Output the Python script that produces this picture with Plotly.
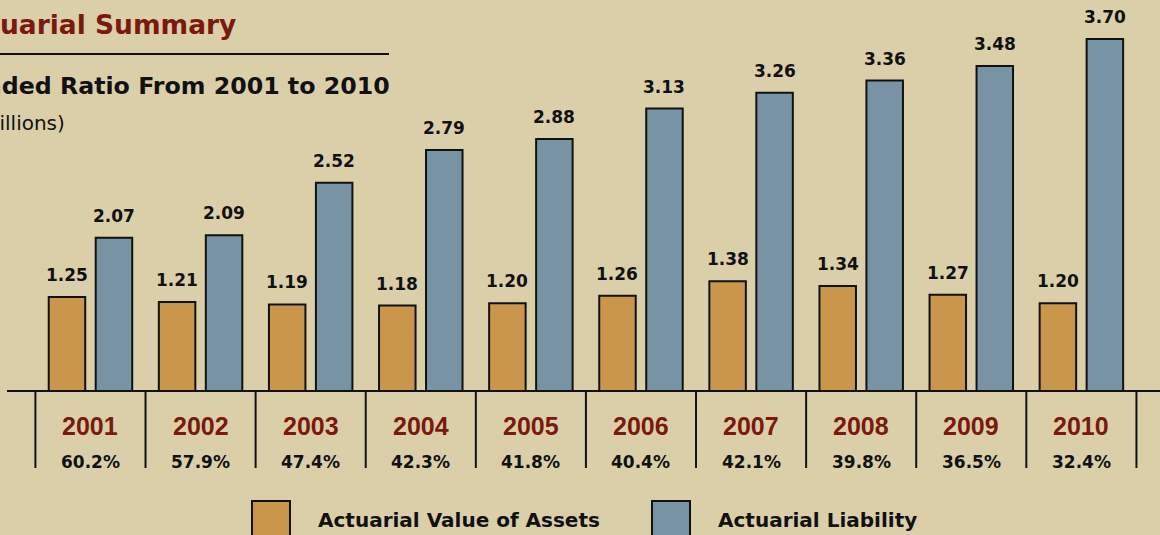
import plotly.graph_objects as go

years = ["2001", "2002", "2003", "2004", "2005", "2006", "2007", "2008", "2009", "2010"]
assets = [1.25, 1.21, 1.19, 1.18, 1.20, 1.26, 1.38, 1.34, 1.27, 1.20]
liability = [2.07, 2.09, 2.52, 2.79, 2.88, 3.13, 3.26, 3.36, 3.48, 3.70]
funded_ratio = ["60.2%", "57.9%", "47.4%", "42.3%", "41.8%", "40.4%", "42.1%", "39.8%", "36.5%", "32.4%"]

BG = "#dbcfaa"
ORANGE = "#c9964c"
BLUE = "#7894a4"
DARKRED = "#7a1a0e"
INK = "#111111"
BOLD = "DejaVu Sans"

W, H = 1160, 535
L, B = 7, 145
PW, PH = W - L, H - B


def px(x):
    return (x - L) / PW


def py(y):
    return (PH - y) / PH


fig = go.Figure()
fig.add_trace(go.Bar(
    x=years, y=assets, name="Actuarial Value of Assets", yaxis="y",
    width=0.3315, offset=-0.379,
    marker=dict(color=ORANGE, line=dict(color=INK, width=2)),
    hoverinfo="x+y",
))
fig.add_trace(go.Bar(
    x=years, y=liability, name="Actuarial Liability", yaxis="y2",
    width=0.3315, offset=0.0477,
    marker=dict(color=BLUE, line=dict(color=INK, width=2)),
    hoverinfo="x+y",
))

ann = []
# category axis: annotations take the category index
for i, (yr, a, l, fr) in enumerate(zip(years, assets, liability, funded_ratio)):
    ann.append(dict(xref="x", x=i, y=a, yref="y", text=f"{a:.2f}", xshift=-23.5, yshift=10,
                    yanchor="bottom", showarrow=False,
                    font=dict(family=BOLD, size=17, color=INK, weight="bold")))
    ann.append(dict(xref="x", x=i, y=l, yref="y2", text=f"{l:.2f}", xshift=23.5, yshift=10,
                    yanchor="bottom", showarrow=False,
                    font=dict(family=BOLD, size=17, color=INK, weight="bold")))
    ann.append(dict(xref="x", x=i, y=py(426), yref="paper", yanchor="middle", text=yr,
                    showarrow=False,
                    font=dict(family="Liberation Sans", size=25, color=DARKRED, weight="bold")))
    ann.append(dict(xref="x", x=i, y=py(462), yref="paper", yanchor="middle", text=fr,
                    showarrow=False,
                    font=dict(family=BOLD, size=17, color=INK, weight="bold")))

# header, cropped on the left like the source page
ann += [
    dict(xref="paper", yref="paper", x=px(238), y=py(25), xanchor="right", yanchor="middle",
         showarrow=False, text="Actuarial Summary",
         font=dict(family=BOLD, size=26.5, color=DARKRED, weight="bold")),
    dict(xref="paper", yref="paper", x=px(392), y=py(86), xanchor="right", yanchor="middle",
         showarrow=False, text="Funded Ratio From 2001 to 2010",
         font=dict(family=BOLD, size=23.7, color=INK, weight="bold")),
    dict(xref="paper", yref="paper", x=px(67), y=py(123), xanchor="right", yanchor="middle",
         showarrow=False, text="(In Billions)", font=dict(family=BOLD, size=20, color=INK)),
    dict(xref="paper", yref="paper", x=px(316), y=py(520), xanchor="left", yanchor="middle",
         showarrow=False, text="Actuarial Value of Assets",
         font=dict(family=BOLD, size=20, color=INK, weight="bold")),
    dict(xref="paper", yref="paper", x=px(716), y=py(520), xanchor="left", yanchor="middle",
         showarrow=False, text="Actuarial Liability",
         font=dict(family=BOLD, size=20, color=INK, weight="bold")),
]

shapes = [dict(type="line", xref="x", yref="paper", x0=i - 0.5, x1=i - 0.5, y0=0, y1=py(468),
               line=dict(color=INK, width=2)) for i in range(len(years) + 1)]
shapes += [
    dict(type="line", xref="paper", yref="paper", x0=px(-5), x1=px(389), y0=py(54), y1=py(54),
         line=dict(color=INK, width=2)),
    dict(type="rect", xref="paper", yref="paper", x0=px(252), x1=px(290), y0=py(501), y1=py(545),
         fillcolor=ORANGE, line=dict(color=INK, width=2)),
    dict(type="rect", xref="paper", yref="paper", x0=px(652), x1=px(690), y0=py(501), y1=py(545),
         fillcolor=BLUE, line=dict(color=INK, width=2)),
]

fig.update_layout(
    width=W, height=H,
    margin=dict(l=L, r=0, t=0, b=B),
    paper_bgcolor=BG, plot_bgcolor=BG,
    showlegend=False,
    barmode="overlay",
    xaxis=dict(type="category", range=[-0.758, 9.714], showticklabels=False, ticks="",
               showgrid=False, zeroline=False, showline=True, linecolor=INK, linewidth=2),
    yaxis=dict(range=[0.487, 3.689], visible=False, showgrid=False),
    yaxis2=dict(range=[0.819, 4.021], visible=False, showgrid=False, overlaying="y"),
    annotations=ann,
    shapes=shapes,
)

# drop the default page margin so the chart sits at the window's corner
fig.write_html("out.html", config={"displayModeBar": False},
               post_script="document.body.style.margin = '0';")
